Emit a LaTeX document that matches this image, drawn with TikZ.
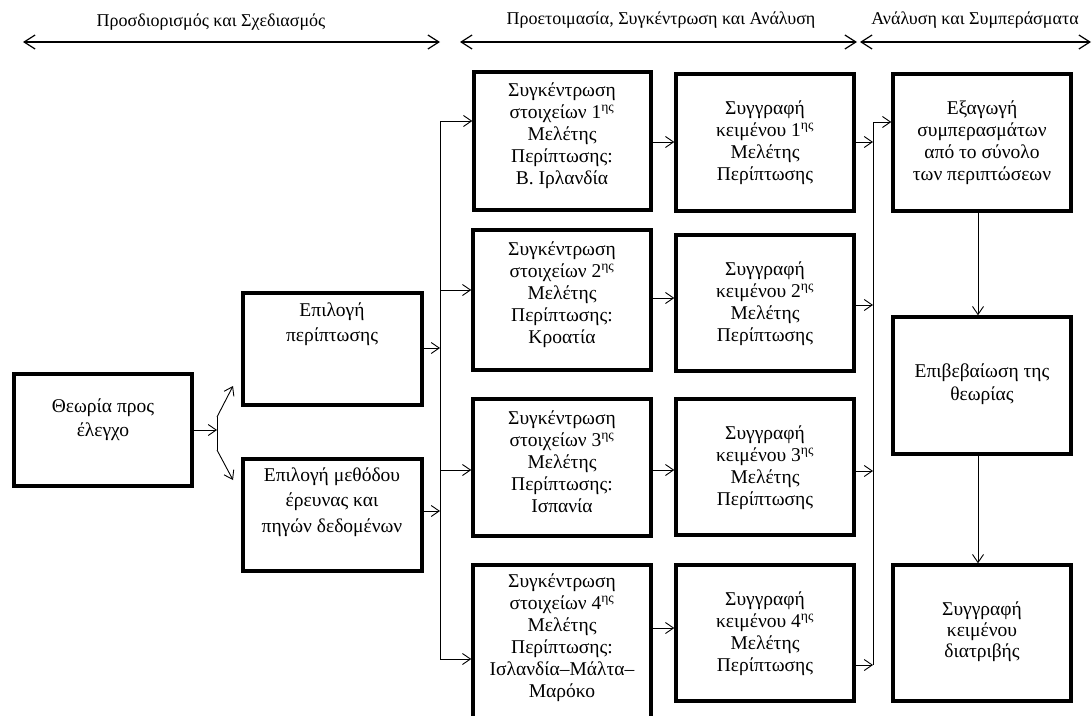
\documentclass[tikz,border=0pt]{standalone}
\usepackage{fontspec}
\setmainfont{Liberation Serif}
\usetikzlibrary{arrows.meta}
\begin{document}
\begin{tikzpicture}[x=1pt,y=-1pt,
  box/.style={draw, line width=3.5pt, inner sep=0pt},
  txt/.style={align=center, font=\fontsize{19.5}{22}\selectfont, inner sep=0pt},
  txtw/.style={align=center, font=\fontsize{19.5}{25.5}\selectfont, inner sep=0pt},
  con/.style={line width=0.9pt, -{Straight Barb[length=8pt,width=11pt]}},
  bus/.style={line width=0.9pt},
  phase/.style={line width=1.2pt, {Straight Barb[length=11pt,width=14pt]}-{Straight Barb[length=11pt,width=14pt]}},
  lab/.style={font=\fontsize{18}{20}\selectfont, inner sep=0pt}]
\newcommand\mkbox[5]{\node[box, minimum width={(#4-#2)*1pt}, minimum height={(#5-#3)*1pt}] (#1) at ({(#2+#4)/2},{(#3+#5)/2}) {};}
\newcommand\sth{\textsuperscript{ης}}
\fill[white] (0,0) rectangle (1092,715);
\clip (0,0) rectangle (1092,715);
% phases
\coordinate (p1a) at (23,42); \coordinate (p1b) at (440,42);
\coordinate (p2a) at (460,42); \coordinate (p2b) at (857,42);
\coordinate (p3a) at (860,42); \coordinate (p3b) at (1091,42);
\draw[phase] (p1a) -- (p1b);
\draw[phase] (p2a) -- (p2b);
\draw[phase] (p3a) -- (p3b);
\node[lab] (l1) at (211,22) {Προσδιορισμός και Σχεδιασμός};
\node[lab] (l2) at (661,20) {Προετοιμασία, Συγκέντρωση και Ανάλυση};
\node[lab] (l3) at (975,20) {Ανάλυση και Συμπεράσματα};
% boxes
\mkbox{T}{14}{374}{192}{486}
\mkbox{E1}{243}{293}{422}{405}
\mkbox{E2}{243}{459}{422}{571}
\mkbox{C1}{474}{72}{651}{210}
\mkbox{C2}{473}{230}{651}{370}
\mkbox{C3}{473}{399}{651}{536}
\mkbox{C4}{473}{565}{651}{730}
\mkbox{W1}{676}{74}{854}{211}
\mkbox{W2}{676}{235}{854}{371}
\mkbox{W3}{676}{399}{854}{535}
\mkbox{W4}{676}{565}{854}{701}
\mkbox{R1}{893}{74}{1071}{211}
\mkbox{R2}{893}{317}{1071}{454}
\mkbox{R3}{893}{565}{1071}{701}
% texts
\node[txt, font=\fontsize{19.5}{24}\selectfont] (tT) at (103,420) {Θεωρία προς\\έλεγχο};
\node[txtw] (tE1) at (332,324) {Επιλογή\\περίπτωσης};
\node[txtw] (tE2) at (332,502) {Επιλογή μεθόδου\\έρευνας και\\πηγών δεδομένων};
\node[txt] (tC1) at (562,136) {Συγκέντρωση\\στοιχείων 1\sth\\Μελέτης\\Περίπτωσης:\\Β. Ιρλανδία};
\node[txt] (tC2) at (562,295) {Συγκέντρωση\\στοιχείων 2\sth\\Μελέτης\\Περίπτωσης:\\Κροατία};
\node[txt] (tC3) at (562,462) {Συγκέντρωση\\στοιχείων 3\sth\\Μελέτης\\Περίπτωσης:\\Ισπανία};
\node[txt] (tC4) at (562,638) {Συγκέντρωση\\στοιχείων 4\sth\\Μελέτης\\Περίπτωσης:\\Ισλανδία–Μάλτα–\\Μαρόκο};
\node[txt] (tW1) at (765,143) {Συγγραφή\\κειμένου 1\sth\\Μελέτης\\Περίπτωσης};
\node[txt] (tW2) at (765,304) {Συγγραφή\\κειμένου 2\sth\\Μελέτης\\Περίπτωσης};
\node[txt] (tW3) at (765,468) {Συγγραφή\\κειμένου 3\sth\\Μελέτης\\Περίπτωσης};
\node[txt] (tW4) at (765,634) {Συγγραφή\\κειμένου 4\sth\\Μελέτης\\Περίπτωσης};
\node[txt] (tR1) at (982,143) {Εξαγωγή\\συμπερασμάτων\\από το σύνολο\\των περιπτώσεων};
\node[txt, font=\fontsize{19.5}{23}\selectfont] (tR2) at (982,384) {Επιβεβαίωση της\\θεωρίας};
\node[txt, font=\fontsize{19.5}{21}\selectfont] (tR3) at (982,632) {Συγγραφή\\κειμένου\\διατριβής};
% fork from theory
\coordinate (fkM) at (217,430);
\coordinate (fkT) at (217,417);
\coordinate (fkB) at (217,450);
\coordinate (e1in) at (233,386);
\coordinate (e2in) at (233,480);
\draw[con] (T.east) -- (fkM);
\draw[bus] (fkT) -- (fkB);
\draw[con] (fkT) -- (e1in);
\draw[con] (fkB) -- (e2in);
% bus 1
\coordinate (b1t) at (440,121);
\coordinate (b1c2) at (440,290);
\coordinate (b1c3) at (440,470);
\coordinate (b1b) at (440,659);
\draw[bus] (b1t) -- (b1b);
\draw[con] (E1.east |- 0,348) -- (b1t |- 0,348);
\draw[con] (E2.east |- 0,511) -- (b1t |- 0,511);
\draw[con] (b1t) -- (C1.west |- b1t);
\draw[con] (b1c2) -- (C2.west |- b1c2);
\draw[con] (b1c3) -- (C3.west |- b1c3);
\draw[con] (b1b) -- (C4.west |- b1b);
% C -> W
\coordinate (y1) at (0,142); \coordinate (y2) at (0,298);
\coordinate (y3) at (0,470); \coordinate (y4) at (0,628);
\draw[con] (C1.east |- y1) -- (W1.west |- y1);
\draw[con] (C2.east |- y2) -- (W2.west |- y2);
\draw[con] (C3.east |- y3) -- (W3.west |- y3);
\draw[con] (C4.east |- y4) -- (W4.west |- y4);
% bus 2
\coordinate (b2t) at (873,122);
\coordinate (b2b) at (873,665);
\draw[bus] (b2t) -- (b2b);
\draw[con] (W1.east |- 0,142) -- (b2t |- 0,142);
\draw[con] (W2.east |- 0,305) -- (b2t |- 0,305);
\draw[con] (W3.east |- 0,471) -- (b2t |- 0,471);
\draw[con] (W4.east |- b2b) -- (b2b);
\draw[con] (b2t) -- (R1.west |- b2t);
% right column
\coordinate (xr) at (978,0);
\draw[con] (R1.south -| xr) -- (R2.north -| xr);
\draw[con] (R2.south -| xr) -- (R3.north -| xr);
\end{tikzpicture}
\end{document}
